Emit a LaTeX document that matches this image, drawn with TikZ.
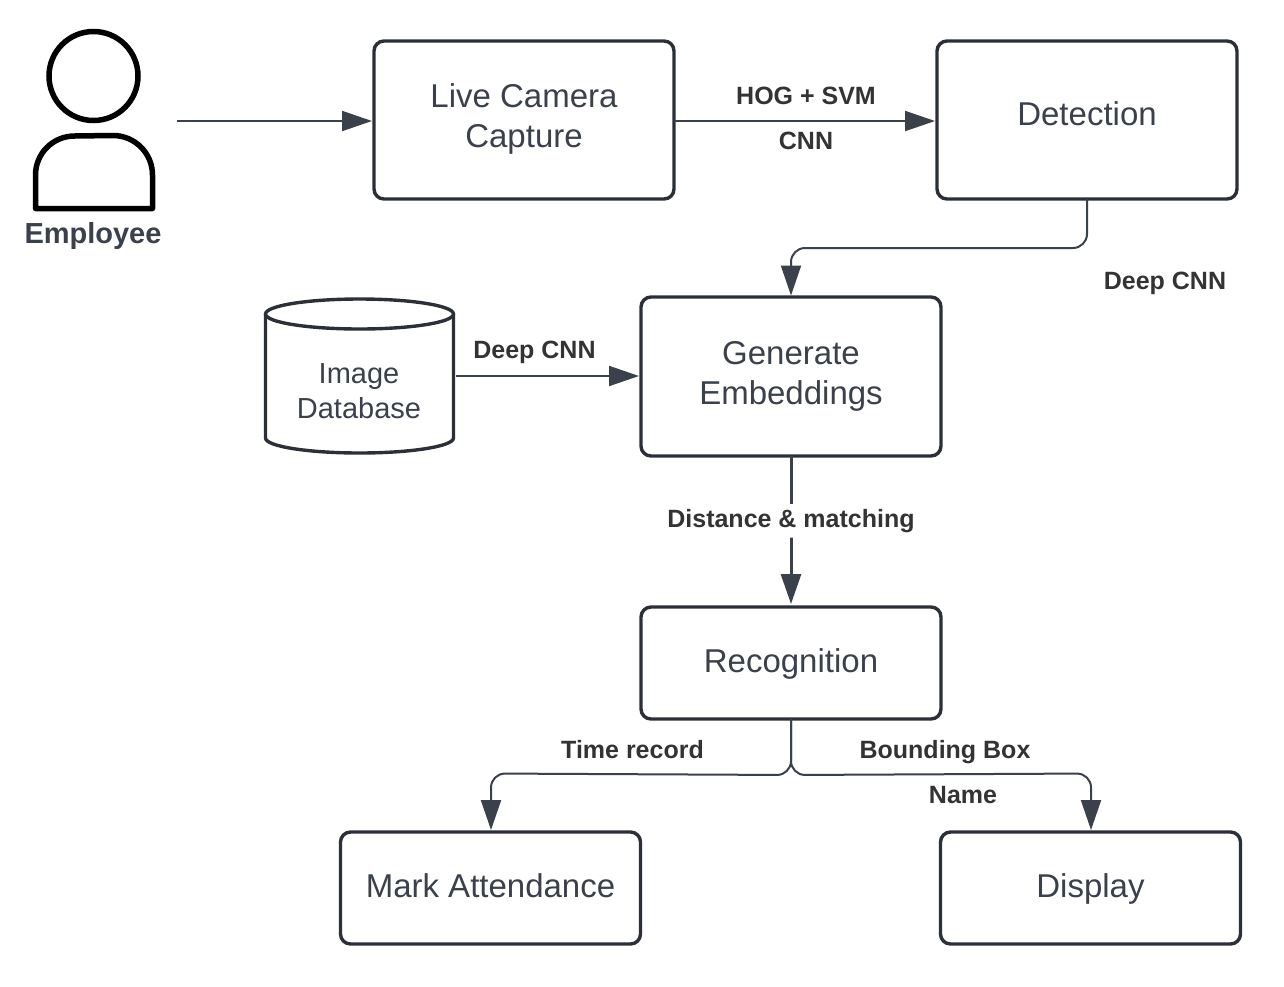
\documentclass[tikz,border=0pt]{standalone}
\usepackage{fontspec}
\setmainfont{Liberation Sans}
\usetikzlibrary{arrows.meta}
\definecolor{ink}{HTML}{3A414A}
\definecolor{edge}{HTML}{2B3038}
\definecolor{lab}{HTML}{333333}
\tikzset{
  x=1pt,y=-1pt,
  procbox/.style={draw=edge,line width=3.4pt,rounded corners=10pt,minimum width=300pt,inner sep=0pt,align=center,text=ink,font=\fontsize{33}{40}\selectfont,outer sep=0pt},
  onetext/.style={text height=24pt,text depth=6pt},
  boxtext/.style={text=ink,font=\fontsize{33}{40}\selectfont,inner sep=0pt,align=center},
  lbl/.style={font=\fontsize{25}{30}\selectfont\bfseries,text=lab,inner sep=0pt},
  conn/.style={draw=ink,line width=2pt,rounded corners=14pt,-{Triangle[length=30pt,width=20pt]}},
  cyl/.style={draw=edge,line width=3.4pt,fill=white,line join=round},
}
\begin{document}
\begin{tikzpicture}
\useasboundingbox (0,0) rectangle (1284,986);
% employee
\draw[black,line width=5.5pt] (93.5,76) circle (44.5);
\draw[black,line width=5.5pt,line join=round] (35.5,208.5) -- (35.5,175) arc[start angle=180,end angle=270,radius=39] -- (113,135.5) arc[start angle=270,end angle=360,radius=39.5] -- (152.5,208.5) -- cycle;
\node[font=\fontsize{29}{34}\selectfont\bfseries,text=ink,inner sep=0pt] (emp) at (93,236) {Employee};
\coordinate (empfree) at (177,121);
% boxes
\node[procbox,minimum height=158pt] (live) at (524,120) {};
\node[boxtext] (livetxt) at (524,119) {Live Camera\\Capture};
\node[procbox,minimum height=158pt] (det) at (1087,120) {};
\node[boxtext] (dettxt) at (1087,114) {Detection};
\node[procbox,minimum height=159pt] (gen) at (791,376.5) {Generate\\Embeddings};
\node[procbox,minimum height=112pt,onetext] (rec) at (791,663) {Recognition};
\node[procbox,minimum height=112pt,onetext] (mark) at (490.5,888) {Mark Attendance};
\node[procbox,minimum height=112pt,onetext] (disp) at (1090.5,888) {Display};
% database
\draw[cyl] (265.5,314) -- (265.5,438) arc[start angle=180,end angle=0,x radius=94,y radius=15] -- (453.5,314);
\draw[cyl] (359.5,314) ellipse[x radius=94,y radius=15];
\node[minimum width=188pt,minimum height=1pt,inner sep=0pt,outer sep=0pt] (db) at (359.5,376) {};
\node[text=ink,font=\fontsize{29}{35}\selectfont,align=center,inner sep=0pt] (dbtxt) at (359,391) {Image\\Database};
% connectors
\draw[conn] (empfree) -- (372,121);
\draw[conn] (live.east |- 0,121) -- (935,121);
\draw[conn] (det.south) -- (1087,248) -- (791,248) -- (791,295.5);
\draw[conn] (db.east) ++(2,0) -- (639,376);
\draw[conn,line width=3pt,shorten >=3pt] (gen.south) -- (rec.north) node[pos=0.43,fill=white,lbl,inner xsep=1pt,inner ysep=5pt] (dist) {Distance \& matching};
\draw[conn] (rec.south) -- (791,775) -- (491,773.5) -- (491,830);
\draw[conn] (rec.south) -- (791,775) -- (1091,773.5) -- (1091,830);
% labels
\node[lbl] (l1) at (806,96) {HOG + SVM};
\node[lbl] (l2) at (806,140.5) {CNN};
\node[lbl] (l3) at (1165,283.5) {Deep CNN};
\node[lbl] (l4) at (534.5,352.5) {Deep CNN};
\node[lbl] (l5) at (632.5,750) {Time record};
\node[lbl] (l6) at (945,752) {Bounding Box};
\node[lbl] (l7) at (963,795) {Name};
\end{tikzpicture}
\end{document}
